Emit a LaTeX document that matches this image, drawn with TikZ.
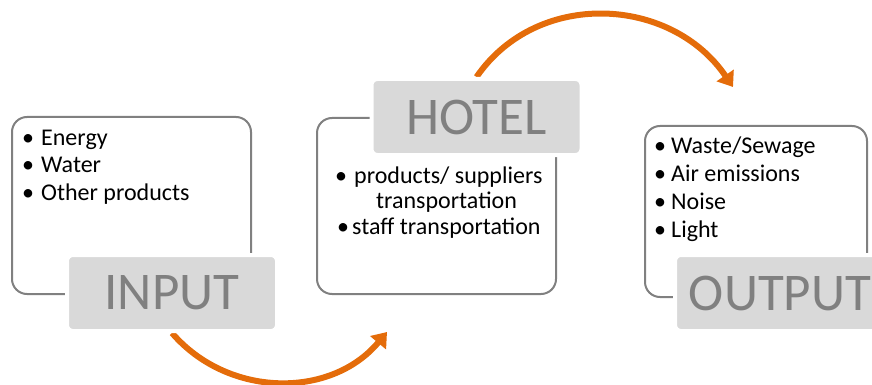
\documentclass[tikz,border=0pt]{standalone}
\usepackage{fontspec}
\setmainfont{Carlito}
\usepackage{xcolor}
\usetikzlibrary{arrows.meta,backgrounds}

\definecolor{flowc}{RGB}{228,108,10}
\definecolor{tagfill}{RGB}{217,217,217}
\definecolor{edgec}{RGB}{128,128,128}

% bullet with a fixed gap before the item text
\newcommand{\itm}[1][19pt]{\makebox[#1][l]{\textbullet}}

\begin{document}
\begin{tikzpicture}[x=1pt, y=-1pt,
  panel/.style={draw=edgec, line width=2pt, rounded corners=15pt, inner sep=0pt},
  tag/.style={fill=tagfill, draw=white, line width=4pt, rounded corners=6pt,
    minimum width=210pt, minimum height=76pt, inner sep=0pt, text=edgec,
    font=\fontsize{53}{56}\selectfont},
  items/.style={anchor=north west, align=left, inner sep=0pt,
    font=\fontsize{24}{27.5}\selectfont},
  flow/.style={draw=flowc, line width=6pt, -{Triangle[length=14pt,width=20pt]}}]
  \useasboundingbox (0,0) rectangle (872,385);

  % the three panels with their lists
  \node[panel, minimum width=239pt, minimum height=177pt] (inbox)  at (131.5,205.5) {};
  \node[panel, minimum width=239pt, minimum height=176pt] (hotbox) at (436.5,206) {};
  \node[panel, minimum width=222pt, minimum height=171pt] (outbox) at (756,211.5) {};

  \node[items] (inlist) at (22,129.5) {\itm Energy\\ \itm Water\\ \itm Other products};
  \node[items, font=\fontsize{24}{25.5}\selectfont] (hotlist) at (335,166.5)
    {\itm products/ suppliers\\ \hspace*{41pt}transportation\\ \hspace*{2pt}\itm[15pt]staff transportation};
  \node[items, font=\fontsize{24}{28}\selectfont] (outlist) at (654,136.5)
    {\itm[17pt]Waste/Sewage\\ \itm[17pt]Air emissions\\ \itm[17pt]Noise\\ \itm[17pt]Light};

  % grey tags on the panel corners
  \node[tag] (input)  at (172,293)   {INPUT};
  \node[tag] (hotel)  at (476.5,117) {HOTEL};
  \node[tag] (output) at (780,293)   {OUTPUT};

  % orange flow arrows
  \coordinate (hotin) at (387,332);
  \coordinate (outin) at (733,87);
  \begin{scope}[on background layer]
    \draw[flow] (input.south) .. controls (228,398) and (331,399) .. (hotin);
    \draw[flow] (hotel.north) .. controls (537,-11) and (671,-4) .. (outin);
  \end{scope}
\end{tikzpicture}
\end{document}
